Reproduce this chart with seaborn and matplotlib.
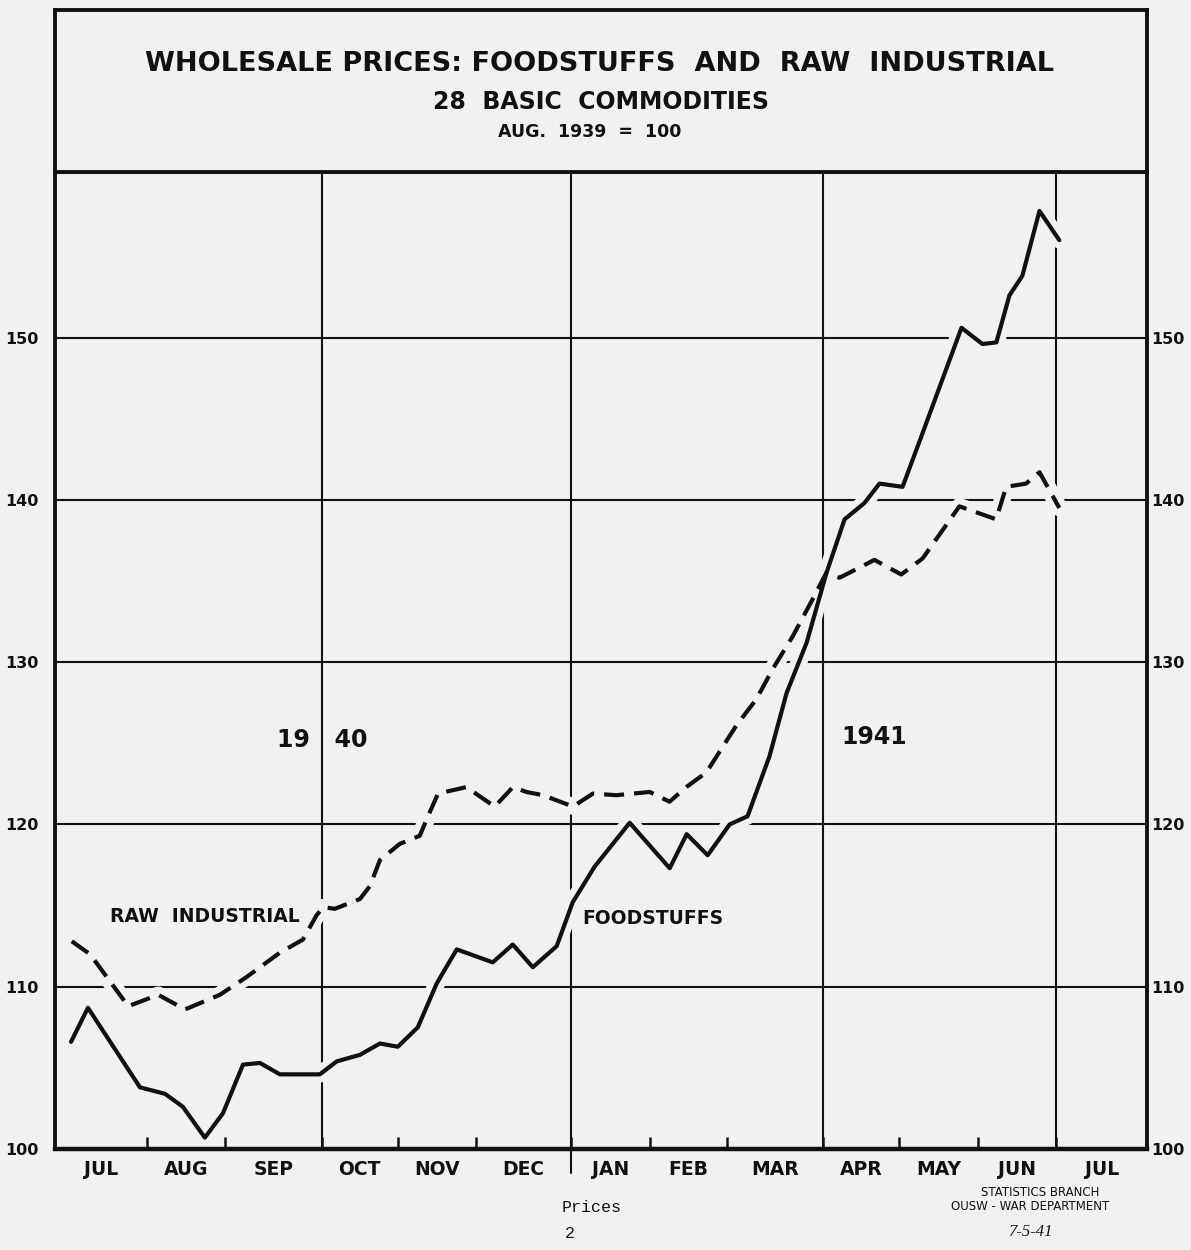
import numpy as np
import pandas as pd
import matplotlib
matplotlib.use("Agg")
import matplotlib.pyplot as plt
import matplotlib.transforms as mtrans
import seaborn as sns

# weeks counted from the left edge of the chart (Jul 1940), index Aug 1939 = 100
food_weeks = [0.83, 1.71, 4.41, 5.71, 6.64, 7.78, 8.72, 9.76, 10.64, 11.68, 13.75,
              14.63, 15.83, 16.87, 17.80, 18.84, 19.82, 20.86, 22.73, 23.77, 24.81,
              26.05, 26.88, 28.02, 29.84, 31.92, 32.80, 33.89, 35.03, 35.96, 37.10,
              37.99, 39.03, 40.06, 41.00, 42.03, 42.81, 44.01, 44.89, 47.07, 48.16,
              48.88, 49.56, 50.23, 51.12, 52.15]
food_index = [106.6, 108.7, 103.8, 103.4, 102.6, 100.7, 102.2, 105.2, 105.3, 104.6, 104.6,
              105.4, 105.8, 106.5, 106.3, 107.5, 110.2, 112.3, 111.5, 112.6, 111.2,
              112.5, 115.2, 117.4, 120.1, 117.3, 119.4, 118.1, 120.0, 120.5, 124.2,
              128.1, 131.2, 135.5, 138.8, 139.8, 141.0, 140.8, 143.6, 150.6, 149.6,
              149.7, 152.6, 153.8, 157.8, 156.0]

raw_weeks = [0.87, 1.82, 3.80, 5.36, 6.75, 8.56, 9.95, 11.68, 12.87, 13.58, 13.92,
             14.53, 15.83, 16.35, 16.87, 17.90, 18.94, 19.29, 19.89, 21.36, 22.83,
             23.78, 24.48, 25.34, 26.90, 27.93, 29.15, 30.88, 31.91, 32.78, 33.82,
             35.38, 36.41, 37.28, 38.31, 39.35, 40.05, 40.74, 42.55, 43.94, 45.06,
             46.96, 48.87, 49.39, 50.42, 51.12, 52.15]
raw_index = [112.8, 112.0, 108.8, 109.5, 108.6, 109.5, 110.6, 112.1, 112.9, 114.4, 114.9,
             114.8, 115.4, 116.2, 117.8, 118.8, 119.3, 120.3, 121.9, 122.3, 121.1,
             122.3, 122.0, 121.8, 121.1, 121.9, 121.8, 122.0, 121.4, 122.3, 123.2,
             126.1, 127.7, 129.6, 131.6, 133.9, 135.5, 135.2, 136.3, 135.4, 136.4,
             139.6, 138.8, 140.8, 141.0, 141.7, 139.5]

months = ["JUL", "AUG", "SEP", "OCT", "NOV", "DEC", "JAN", "FEB", "MAR",
          "APR", "MAY", "JUN", "JUL"]
month_edges = [0, 4.77, 8.82, 13.86, 17.8, 21.85, 26.8, 30.9, 34.9, 39.9,
               43.85, 47.95, 52.0, 56.7]
quarter_edges = [13.86, 26.8, 39.9, 52.0]
y_ticks = [100, 110, 120, 130, 140, 150]

food = pd.DataFrame({"week": food_weeks, "index": food_index})
raw = pd.DataFrame({"week": raw_weeks, "index": raw_index})

bg = "#f1f1ef"
ink = "#111111"

sns.set_theme(style="white")
plt.rcParams["font.family"] = ["DejaVu Sans"]

fig = plt.figure(figsize=(11.91, 12.5), dpi=100, facecolor=bg)
ax = fig.add_axes([0.0462, 0.0808, 0.9168, 0.7816], facecolor=bg)

ax.set_xlim(0, 56.7)
ax.set_ylim(100, 160.2)

# grid lines (broken where the curves cross, via the background underlay below)
for y in y_ticks[1:]:
    ax.axhline(y, color=ink, lw=1.5, zorder=1)
for x in quarter_edges:
    ax.axvline(x, color=ink, lw=1.5, zorder=1)
# year divider pokes below the axis
ax.plot([26.8, 26.8], [-0.025, 0],
        transform=mtrans.blended_transform_factory(ax.transData, ax.transAxes),
        color=ink, lw=1.5, clip_on=False)

# underlay to break the grid lines
for df in (food, raw):
    sns.lineplot(data=df, x="week", y="index", ax=ax, color=bg, lw=12,
                 sort=False, estimator=None, zorder=2, solid_capstyle="round")

sns.lineplot(data=food, x="week", y="index", ax=ax, color=ink, lw=3,
             sort=False, estimator=None, zorder=3)
sns.lineplot(data=raw, x="week", y="index", ax=ax, color=ink, lw=3,
             sort=False, estimator=None, zorder=3)
ax.lines[-1].set_dashes((4.8, 2.4))

for s in ax.spines.values():
    s.set_visible(True)
    s.set_color(ink)
    s.set_linewidth(2.8)
ax.spines["bottom"].set_linewidth(3.2)

# month ticks and labels
ax.set_xticks(month_edges[1:-1])
ax.set_xticklabels([])
ax.tick_params(axis="x", which="major", direction="in", length=9, width=1.8,
               color=ink, bottom=True)
centers = [(a + b) / 2 for a, b in zip(month_edges[:-1], month_edges[1:])]
ax.set_xticks(centers, minor=True)
ax.set_xticklabels(months, minor=True, fontsize=13.5, fontweight="bold", color=ink)
ax.tick_params(axis="x", which="minor", length=0, pad=8)
ax.set_xlabel("")
ax.set_ylabel("")

# index scale on both sides
ax.set_yticks(y_ticks)
ax.set_yticklabels([str(v) for v in y_ticks], fontsize=11.5, fontweight="bold", color=ink)
ax.tick_params(axis="y", length=0, pad=12, left=True, labelleft=True)

ax2 = ax.twinx()
ax2.set_ylim(ax.get_ylim())
ax2.set_yticks(y_ticks)
ax2.set_yticklabels([str(v) for v in y_ticks], fontsize=11.5, fontweight="bold", color=ink)
ax2.tick_params(axis="y", length=0, pad=3)
for s in ax2.spines.values():
    s.set_visible(False)
ax2.grid(False)

# series and year labels
ax.text(2.85, 114.3, "RAW  INDUSTRIAL", fontsize=13.5, fontweight="bold", color=ink,
        ha="left", va="center", zorder=4)
ax.text(27.4, 114.2, "FOODSTUFFS", fontsize=13.5, fontweight="bold", color=ink,
        ha="left", va="center", zorder=4)
ax.text(13.86, 125.2, "19   40", fontsize=17, fontweight="bold", color=ink,
        ha="center", va="center", zorder=4)
ax.text(42.55, 125.4, "1941", fontsize=17, fontweight="bold", color=ink,
        ha="center", va="center", zorder=4)

# title box
tax = fig.add_axes([0.0462, 0.8624, 0.9168, 0.1296], facecolor=bg)
tax.set_xticks([])
tax.set_yticks([])
for s in tax.spines.values():
    s.set_visible(True)
    s.set_color(ink)
    s.set_linewidth(2.8)
tax.text(0.499, 0.667, "WHOLESALE PRICES: FOODSTUFFS  AND  RAW  INDUSTRIAL",
         fontsize=19.5, fontweight="bold", color=ink, ha="center", va="center",
         transform=tax.transAxes)
tax.text(0.5, 0.432, "28  BASIC  COMMODITIES", fontsize=17, fontweight="bold", color=ink,
         ha="center", va="center", transform=tax.transAxes)
tax.text(0.49, 0.247, "AUG.  1939  =  100", fontsize=12.5, fontweight="bold", color=ink,
         ha="center", va="center", transform=tax.transAxes)

# footer
fig.text(592 / 1191, 1 - 1208 / 1250, "Prices", fontsize=12, family="Liberation Mono",
         color=ink, ha="center", va="center")
fig.text(570 / 1191, 1 - 1233 / 1250, "2", fontsize=12, family="Liberation Mono",
         color=ink, ha="center", va="center")
fig.text(1040 / 1191, 1 - 1193 / 1250, "STATISTICS BRANCH", fontsize=8.5,
         color=ink, ha="center", va="center")
fig.text(1030 / 1191, 1 - 1207 / 1250, "OUSW - WAR DEPARTMENT", fontsize=8.5,
         color=ink, ha="center", va="center")
fig.text(1030 / 1191, 1 - 1232 / 1250, "7-5-41", fontsize=12, style="italic",
         family="Liberation Serif", color=ink, ha="center", va="center")

fig.savefig("out.png", dpi=100, facecolor=bg)
